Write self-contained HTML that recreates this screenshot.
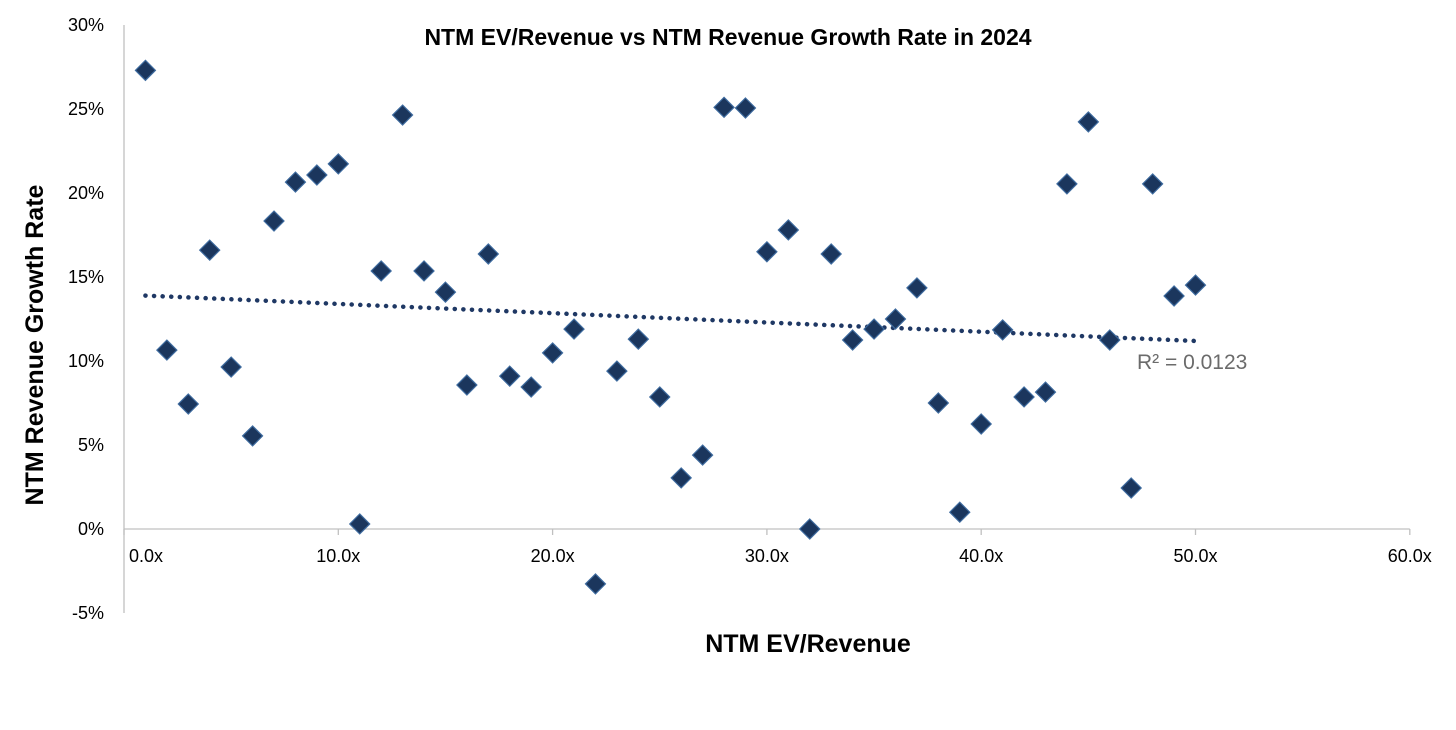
<!DOCTYPE html>
<html><head><meta charset="utf-8"><style>
html,body{margin:0;padding:0;background:#fff;}
svg{display:block;font-family:"Liberation Sans",sans-serif;}
</style></head><body>
<svg id="chart" width="1456" height="730">
<text x="728" y="45" text-anchor="middle" font-size="23" font-weight="bold" fill="#000">NTM EV/Revenue vs NTM Revenue Growth Rate in 2024</text>
<text transform="translate(43,345) rotate(-90)" text-anchor="middle" font-size="25" font-weight="bold" fill="#000">NTM Revenue Growth Rate</text>
<text x="808" y="652" text-anchor="middle" font-size="25" font-weight="bold" fill="#000">NTM EV/Revenue</text>
<g id="axes"></g><g id="trend"></g><g id="marks"></g>
<text x="1137" y="369" font-size="21" fill="#6b6b6b">R² = 0.0123</text>
</svg>
<script>
const evRevenue=[1,2,3,4,5,6,7,8,9,10,11,12,13,14,15,16,17,18,19,20,21,22,23,24,25,26,27,28,29,30,31,32,33,34,35,36,37,38,39,40,41,42,43,44,45,46,47,48,49,50];
const growthRate=[27.3,10.65,7.44,16.6,9.64,5.54,18.33,20.65,21.07,21.73,0.3,15.36,24.64,15.36,14.1,8.57,16.37,9.1,8.45,10.48,11.9,-3.27,9.4,11.3,7.86,3.04,4.4,25.1,25.06,16.5,17.8,0,16.37,11.25,11.9,12.5,14.35,7.5,1.0,6.25,11.85,7.86,8.15,20.54,24.23,11.25,2.44,20.54,13.87,14.52];
const xTicks=[0,10,20,30,40,50,60];
const xTickLabels=["0.0x","10.0x","20.0x","30.0x","40.0x","50.0x","60.0x"];
const yTicks=[-5,0,5,10,15,20,25,30];
const yTickLabels=["-5%","0%","5%","10%","15%","20%","25%","30%"];
const NS="http://www.w3.org/2000/svg";
const X=v=>124+v*21.43, Y=v=>529-v*16.8;
function mk(t,a,p){const e=document.createElementNS(NS,t);for(const k in a)e.setAttribute(k,a[k]);p.appendChild(e);return e;}
const ax=document.getElementById('axes');
const yl=mk('line',{x1:124,x2:124,y1:Y(30),y2:Y(-5),stroke:'#c0c0c0','stroke-width':1.3},ax);


const xl=mk('line',{x1:124,x2:X(60),y1:Y(0),y2:Y(0),stroke:'#c0c0c0','stroke-width':1.3},ax);


xTicks.forEach((v,i)=>{
  mk('line',{x1:X(v),x2:X(v),y1:Y(0),y2:Y(0)+6,stroke:'#c0c0c0','stroke-width':1.3},ax);
  const t=mk('text',{x:X(v)+(i==0?22:0),y:Y(0)+33,'text-anchor':'middle','font-size':18,fill:'#000'},ax);
  t.textContent=xTickLabels[i];
  
  
});
yTicks.forEach((v,i)=>{
  const t=mk('text',{x:104,y:Y(v)+6,'text-anchor':'end','font-size':18,fill:'#000'},ax);
  t.textContent=yTickLabels[i];
  
  
});
const n=evRevenue.length;let sx=0,sy=0,sxx=0,sxy=0;
for(let i=0;i<n;i++){sx+=evRevenue[i];sy+=growthRate[i];sxx+=evRevenue[i]**2;sxy+=evRevenue[i]*growthRate[i];}
const b=(n*sxy-sx*sy)/(n*sxx-sx*sx),a=(sy-b*sx)/n;
const x0=Math.min(...evRevenue),x1=Math.max(...evRevenue);
const tl=mk('line',{x1:X(x0),y1:Y(a+b*x0),x2:X(x1),y2:Y(a+b*x1),stroke:'#1f3864','stroke-width':4.5,'stroke-dasharray':'0.1 8.5','stroke-linecap':'round'},document.getElementById('trend'));


const mg=document.getElementById('marks');
for(let i=0;i<n;i++){
  const cx=X(evRevenue[i]),cy=Y(growthRate[i]);
  const p=mk('polygon',{points:`${cx},${cy-10} ${cx+10},${cy} ${cx},${cy+10} ${cx-10},${cy}`,fill:'#1b365d',stroke:'#3d6a9e','stroke-width':1.2},mg);
  
  
}
</script>
</body></html>
